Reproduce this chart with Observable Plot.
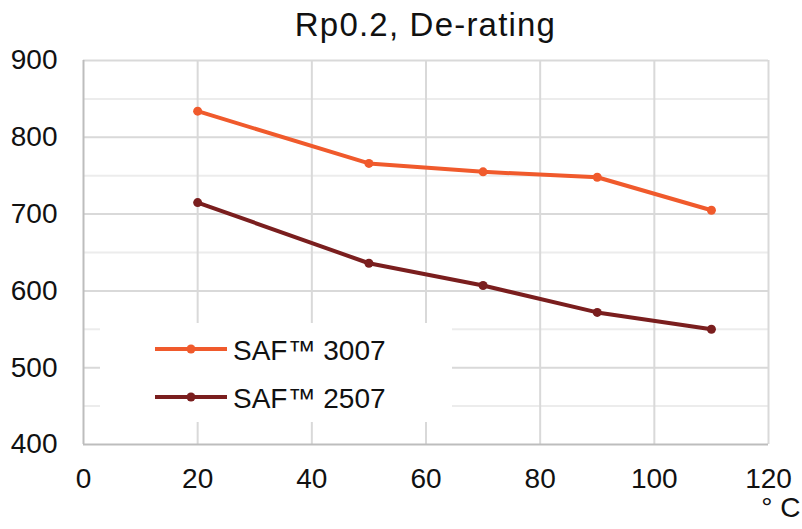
<!DOCTYPE html>
<html>
<head>
<meta charset="utf-8">
<script src="https://cdn.jsdelivr.net/npm/d3@7"></script>
<script src="https://cdn.jsdelivr.net/npm/@observablehq/plot@0.6"></script>
<style>
  html, body { margin: 0; padding: 0; background: #fff; }
  #wrap { position: relative; width: 802px; height: 529px; font-family: "Liberation Sans", Arial, sans-serif; }
  #title { height: 45px; line-height: 50px; font-size: 33px; letter-spacing: 1.2px; color: #111; text-align: center; padding-left: 83px; width: 685px; white-space: nowrap; }
  #legend { position: absolute; left: 100px; top: 323px; }
</style>
</head>
<body>
<div id="wrap">
  <div id="title">Rp0.2, De-rating</div>
  <div id="chart"></div>
  <div id="legend"></div>
</div>
<script>
const titleText = "Rp0.2, De-rating";
const temperatures = [20, 50, 70, 90, 110];
const saf3007 = [834, 766, 755, 748, 705];
const saf2507 = [715, 636, 607, 572, 550];
const seriesNames = ["SAF™ 3007", "SAF™ 2507"];
const seriesColors = ["#f05a2c", "#7a1e1e"];
const xTicks = [0, 20, 40, 60, 80, 100, 120];
const yTicks = [400, 500, 600, 700, 800, 900];
const yMinor = [450, 550, 650, 750, 850];
const xUnit = "° C";

const rows = [];
[saf3007, saf2507].forEach((vals, i) => {
  vals.forEach((v, j) => rows.push({series: seriesNames[i], t: temperatures[j], v}));
});

const chart = Plot.plot({
  width: 802,
  height: 484,
  marginLeft: 83,
  marginRight: 34,
  marginTop: 15,
  marginBottom: 85,
  style: {fontFamily: "'Liberation Sans', Arial, sans-serif", color: "#111", background: "#fff"},
  x: {domain: [0, 120], ticks: xTicks},
  y: {domain: [400, 900], ticks: yTicks},
  color: {domain: seriesNames, range: seriesColors},
  marks: [
    Plot.ruleY(yMinor, {stroke: "#ececec", strokeWidth: 2}),
    Plot.ruleY(yTicks.filter(d => d > 400), {stroke: "#d9d9d9", strokeWidth: 2}),
    Plot.ruleX(xTicks.filter(d => d > 0), {stroke: "#d9d9d9", strokeWidth: 2}),
    Plot.ruleX([0], {stroke: "#bdbdbd", strokeWidth: 2}),
    Plot.ruleY([400], {stroke: "#bdbdbd", strokeWidth: 2}),
    Plot.axisX({ticks: xTicks, tickSize: 0, tickPadding: 24, fontSize: 28, label: null}),
    Plot.axisY({ticks: yTicks, tickSize: 0, tickPadding: 26, fontSize: 28, label: null}),
    Plot.line(rows, {x: "t", y: "v", z: "series", stroke: "series", strokeWidth: 4}),
    Plot.dot(rows, {x: "t", y: "v", fill: "series", r: 4.5}),
    Plot.text([xUnit], {frameAnchor: "bottom-right", textAnchor: "end", dx: 32, dy: 72, fontSize: 28, fill: "#111"})
  ]
});
document.getElementById("chart").appendChild(chart);

// Legend (white box over the grid)
const lw = 352, lh = 99;
const lsvg = d3.select("#legend").append("svg").attr("width", lw).attr("height", lh);
lsvg.append("rect").attr("width", lw).attr("height", lh).attr("fill", "#fff");
seriesNames.forEach((name, i) => {
  const cy = 26 + i * 48;
  lsvg.append("line").attr("x1", 55).attr("x2", 127).attr("y1", cy).attr("y2", cy)
    .attr("stroke", seriesColors[i]).attr("stroke-width", 4);
  lsvg.append("circle").attr("cx", 91).attr("cy", cy).attr("r", 4.5).attr("fill", seriesColors[i]);
  lsvg.append("text").attr("x", 133).attr("y", cy + 11)
    .attr("font-size", 28).attr("fill", "#111")
    .attr("font-family", "'Liberation Sans', Arial, sans-serif")
    .text(name);
});
</script>
</body>
</html>
